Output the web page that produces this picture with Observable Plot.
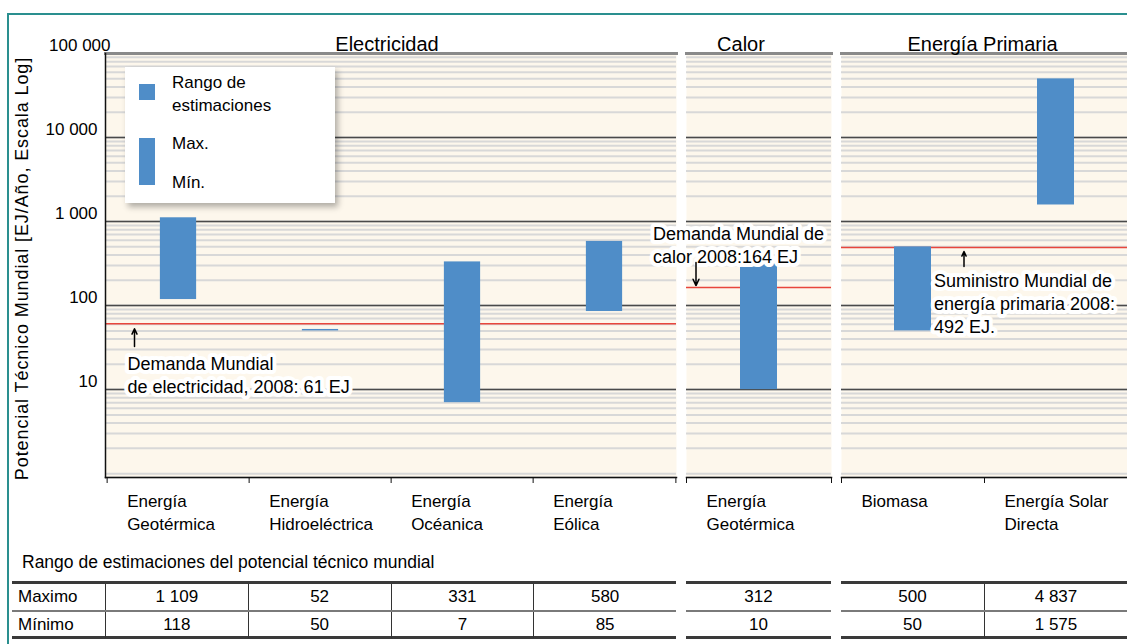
<!DOCTYPE html>
<html>
<head>
<meta charset="utf-8">
<script src="https://cdn.jsdelivr.net/npm/d3@7"></script>
<script src="https://cdn.jsdelivr.net/npm/@observablehq/plot@0.6"></script>
<style>
  body { margin: 0; background: #fff; font-family: "Liberation Sans", Arial, sans-serif; }
  #root { position: relative; width: 1127px; height: 644px; overflow: hidden; background: #fff; }
  #frame { position: absolute; left: 7px; top: 13px; width: 1200px; height: 700px;
           border-top: 2px solid #2a8f8f; border-left: 2px solid #2a8f8f; }
  .panel { position: absolute; top: 0; }
  .lg { position: absolute; font-size: 17px; line-height: 23px; color: #000; white-space: pre; }
  .sw { position: absolute; background: #4f8dc8; }
  .tsec { position: absolute; top: 581px; height: 52px; border-top: 3px solid #3a3a3a; border-bottom: 3px solid #3a3a3a; box-sizing: content-box; }
  .trow { display: flex; height: 26px; }
  .trow.first { border-bottom: 2px solid #7a7a7a; }
  .tcell { box-sizing: border-box; text-align: center; font-size: 17px; line-height: 26px; color: #000; white-space: pre; }
  .tcell.sep { border-left: 1.5px solid #333; }
  .tcell.lbl { text-align: left; padding-left: 6px; }
  .ylab { letter-spacing: 0.9px; }
</style>
</head>
<body>
<div id="root"><div id="frame"></div></div>
<script>
// ---------------- data ----------------
const panelTitles = ["Electricidad", "Calor", "Energía Primaria"];
const categories = ["Energía\nGeotérmica", "Energía\nHidroeléctrica", "Energía\nOcéanica", "Energía\nEólica",
                    "Energía\nGeotérmica", "Biomasa", "Energía Solar\nDirecta"];
const categoryPanel = [0, 0, 0, 0, 1, 2, 2];
const maxValues = [1109, 52, 331, 580, 312, 500, 49837];
const minValues = [118, 50, 7, 85, 10, 50, 1575];
const maxLabels = ["1 109", "52", "331", "580", "312", "500", "4 837"];
const minLabels = ["118", "50", "7", "85", "10", "50", "1 575"];
const demandValues = [61, 164, 492];
const demandTexts = ["Demanda Mundial\nde electricidad, 2008: 61 EJ",
                     "Demanda Mundial de\ncalor 2008:164 EJ",
                     "Suministro Mundial de\nenergía primaria 2008:\n492 EJ."];
const arrowFrom = [32.5, 325, 291];
const arrowTo = [53, 173, 440];
const yTicks = [10, 100, 1000, 10000, 100000];
const yLabel = "Potencial Técnico Mundial [EJ/Año, Escala Log]";
const legendTexts = ["Rango de\nestimaciones", "Max.", "Mín."];
const tableTitle = "Rango de estimaciones del potencial técnico mundial";
const rowLabels = ["Maximo", "Mínimo"];

// ---------------- layout ----------------
const panelBoxes = [
  {left: 0, width: 676, ml: 105},
  {left: 686, width: 145, ml: 0},
  {left: 841, width: 286, ml: 0}
];
const annLayout = [
  {tdx: -51, tdy: 30, adx: -44},
  {tdx: -106, tdy: -64, adx: -63},
  {tdx: 21, tdy: 23, adx: 51}
];
const titleDx = [-4, -18, -2];
const BLUE = "#4f8dc8";
const FONT = "'Liberation Sans', Arial, sans-serif";
const fmt = d => d3.format(",")(d).replace(/,/g, " ");

const root = document.getElementById("root");

panelBoxes.forEach((box, p) => {
  const idx = categories.map((c, i) => i).filter(i => categoryPanel[i] === p);
  const rows = idx.map(i => ({cat: categories[i], min: minValues[i], max: maxValues[i]}));
  const cats = rows.map(r => r.cat);
  const bw = (box.width - box.ml) / cats.length;
  const inset = (bw - 37) / 2;
  const lay = annLayout[p];

  const marks = [
    Plot.frame({fill: "#fdf7ec", stroke: "none"}),
    Plot.gridY({ticks: 40, stroke: "#d8d8d8", strokeOpacity: 1, strokeWidth: 2}),
    Plot.gridY(yTicks.slice(0, 4), {stroke: "#4a4a4a", strokeOpacity: 1, strokeWidth: 1.5}),
    Plot.frame({anchor: "top", stroke: "#8a8a8a", strokeWidth: 3}),
    Plot.ruleY([demandValues[p]], {stroke: "#e8463c", strokeWidth: 1.5}),
    Plot.barY(rows, {x: "cat", y1: "min", y2: "max", fill: BLUE, insetLeft: inset, insetRight: inset}),
    Plot.frame({anchor: "bottom", stroke: "#111", strokeWidth: 1.5}),
    Plot.axisX(cats, {tickSize: 6, tickFormat: () => "", label: null, dx: -bw / 2, stroke: "#111"}),
    Plot.axisX([cats[cats.length - 1]], {tickSize: 6, tickFormat: () => "", label: null, dx: bw / 2, stroke: "#111"}),
    Plot.text(cats, {x: d => d, text: d => d, frameAnchor: "bottom", textAnchor: "start", lineAnchor: "top",
                     dx: -bw / 2 + 20, dy: 12, fontSize: 17, lineHeight: 1.41, fill: "#000"}),
    Plot.text([panelTitles[p]], {text: d => d, frameAnchor: "top", textAnchor: "middle", dy: -17, dx: titleDx[p], fontSize: 20, fill: "#000"}),
    Plot.text([demandTexts[p]], {x: () => cats[0], y: () => demandValues[p], text: d => d,
                     textAnchor: "start", lineAnchor: "top", dx: lay.tdx, dy: lay.tdy,
                     fontSize: 18, lineHeight: 1.28, fill: "#000", stroke: "white", strokeWidth: 8, strokeLinejoin: "round"}),
    Plot.arrow([0], {x1: () => cats[0], x2: () => cats[0], y1: () => arrowFrom[p], y2: () => arrowTo[p],
                     dx: lay.adx, stroke: "#000", strokeWidth: 1.5, headLength: 7, headAngle: 50})
  ];
  if (p === 0) {
    marks.push(
      Plot.frame({anchor: "left", stroke: "#111", strokeWidth: 1.5}),
      Plot.axisY(yTicks.slice(0, 4), {tickSize: 0, tickPadding: 8, dy: -8, tickFormat: fmt, fontSize: 17, label: null, fill: "#000"}),
      Plot.axisY([yTicks[4]], {tickSize: 0, tickPadding: -5, dy: -8, tickFormat: fmt, fontSize: 17, label: null, fill: "#000"}),
      Plot.text([yLabel], {text: d => d, frameAnchor: "left", textAnchor: "middle", lineAnchor: "middle",
                           rotate: -90, dx: -83, dy: 3, fontSize: 18, fill: "#000", className: "ylab"})
    );
  }

  const chart = Plot.plot({
    width: box.width, height: 540,
    marginLeft: box.ml, marginRight: 0, marginTop: 53, marginBottom: 63,
    x: {type: "band", domain: cats, padding: 0, axis: null},
    y: {type: "log", domain: [0.9, 100000], axis: null},
    style: {fontFamily: FONT, fontSize: "17px", color: "#000", background: "transparent", overflow: "visible"},
    marks
  });
  const wrap = document.createElement("div");
  wrap.className = "panel";
  wrap.style.left = box.left + "px";
  wrap.appendChild(chart);
  root.appendChild(wrap);
});

// ---------------- legend ----------------
const legend = document.createElement("div");
legend.style.cssText = "position:absolute;left:125px;top:67px;width:210px;height:136px;background:#fff;box-shadow:3px 4px 6px rgba(0,0,0,0.3);";
const sw1 = document.createElement("div"); sw1.className = "sw";
sw1.style.cssText = "left:14px;top:17px;width:16px;height:16px;";
const sw2 = document.createElement("div"); sw2.className = "sw";
sw2.style.cssText = "left:14px;top:71px;width:16px;height:47px;";
legend.appendChild(sw1); legend.appendChild(sw2);
[[4, legendTexts[0]], [65, legendTexts[1]], [104, legendTexts[2]]].forEach(([top, t]) => {
  const d = document.createElement("div"); d.className = "lg";
  d.style.left = "47px"; d.style.top = top + "px"; d.textContent = t;
  legend.appendChild(d);
});
root.appendChild(legend);

// ---------------- table ----------------
const tt = document.createElement("div");
tt.style.cssText = "position:absolute;left:22px;top:552px;font-size:17.5px;line-height:20px;color:#000;white-space:pre;";
tt.textContent = tableTitle;
root.appendChild(tt);

panelBoxes.forEach((box, p) => {
  const idx = categories.map((c, i) => i).filter(i => categoryPanel[i] === p);
  const bw = (box.width - box.ml) / idx.length;
  const secLeft = p === 0 ? 12 : box.left + box.ml;
  const secWidth = box.left + box.width - secLeft;
  const sec = document.createElement("div");
  sec.className = "tsec";
  sec.style.left = secLeft + "px";
  sec.style.width = secWidth + "px";
  [maxLabels, minLabels].forEach((labels, r) => {
    const row = document.createElement("div");
    row.className = "trow" + (r === 0 ? " first" : "");
    if (p === 0) {
      const c = document.createElement("div");
      c.className = "tcell lbl";
      c.style.width = (box.ml - 12) + "px";
      c.textContent = rowLabels[r];
      row.appendChild(c);
    }
    idx.forEach((i, j) => {
      const c = document.createElement("div");
      c.className = "tcell" + ((p === 0 || j > 0) ? " sep" : "");
      c.style.width = bw + "px";
      c.textContent = labels[i];
      row.appendChild(c);
    });
    sec.appendChild(row);
  });
  root.appendChild(sec);
});
</script>
</body>
</html>
